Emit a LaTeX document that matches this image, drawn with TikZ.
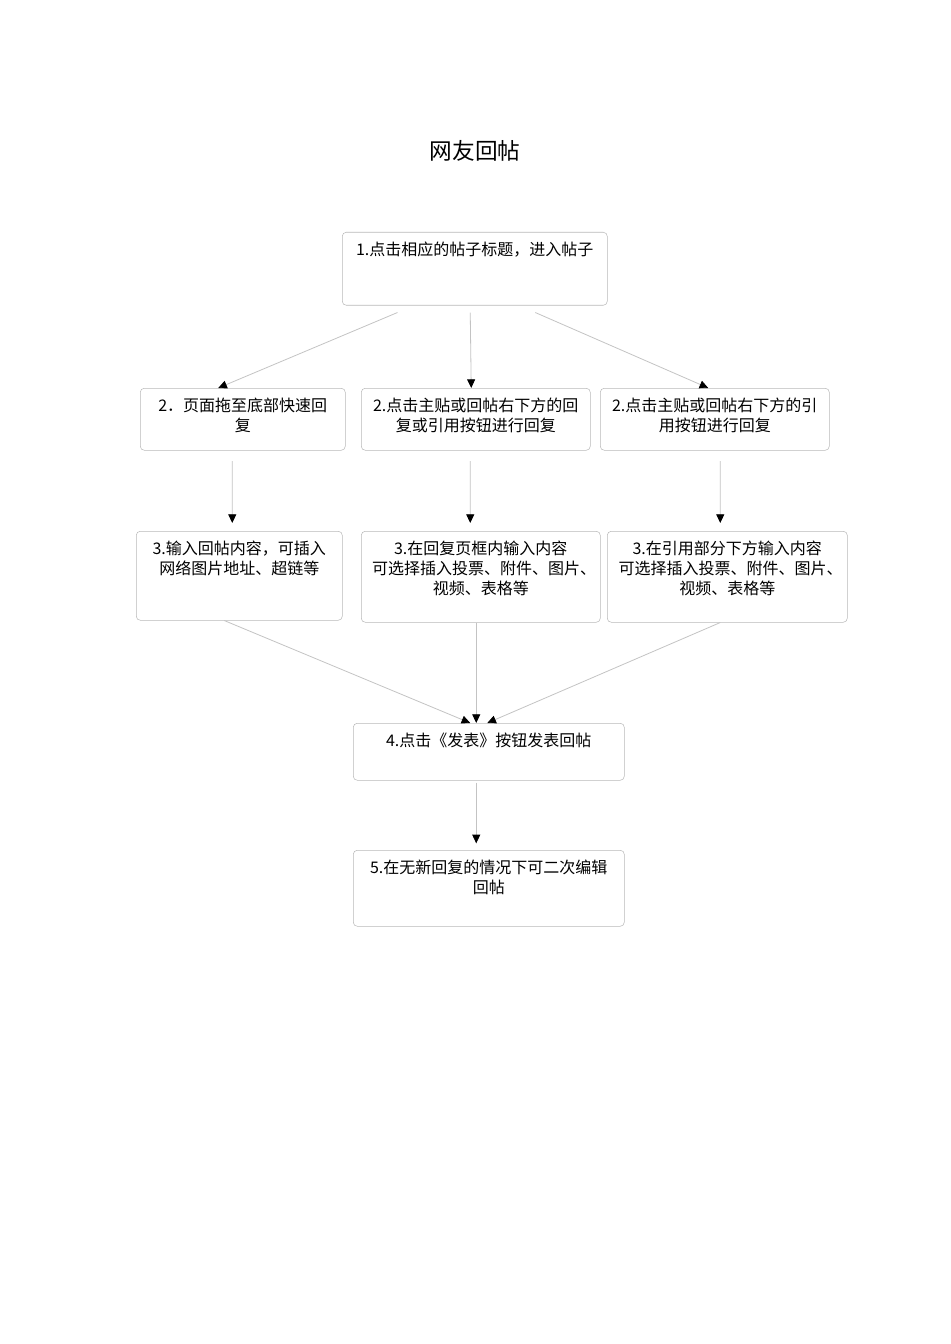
\documentclass[tikz,border=0pt]{standalone}
\usepackage{fontspec}
\setmainfont{Noto Sans CJK SC}
\usetikzlibrary{arrows.meta}

\definecolor{boxgray}{RGB}{185,185,185}
\definecolor{linegray}{RGB}{195,195,195}

% text block of a step: width, height, lines
\newcommand{\steptext}[3]{\parbox[c][#2][t]{#1}{\centering\vspace*{7.5pt}#3\par}}

\tikzset{
  stepbox/.style={draw=boxgray, rounded corners=3pt, inner sep=0pt, anchor=north west,
    font=\fontsize{12pt}{15pt}\selectfont},
  flow/.style={draw=linegray, line width=0.6pt, -{Triangle[black, width=6pt, length=6.5pt]}},
}

\begin{document}
\begin{tikzpicture}[x=0.75pt, y=-0.75pt]
  \useasboundingbox (0,0) rectangle (950,1344);

  \node (title) at (475,151) {\fontsize{17pt}{20pt}\selectfont 网友回帖};

  \node[stepbox] (s1) at (342,232) {\steptext{198.75pt}{54.75pt}{1.点击相应的帖子标题，进入帖子}};

  \node[stepbox] (s2a) at (140,388) {\steptext{153.75pt}{46.5pt}{2．页面拖至底部快速回\\复}};
  \node[stepbox] (s2b) at (361,388) {\steptext{171.75pt}{46.5pt}{2.点击主贴或回帖右下方的回\\复或引用按钮进行回复}};
  \node[stepbox] (s2c) at (600,388) {\steptext{171.75pt}{46.5pt}{2.点击主贴或回帖右下方的引\\用按钮进行回复}};

  \node[stepbox] (s3a) at (136,531) {\steptext{154.5pt}{66.75pt}{3.输入回帖内容，可插入\\网络图片地址、超链等}};
  \node[stepbox] (s3b) at (361,531) {\steptext{179.25pt}{68.25pt}{3.在回复页框内输入内容\\\hspace*{5pt}可选择插入投票、附件、图片、\\视频、表格等}};
  \node[stepbox] (s3c) at (607,531) {\steptext{180pt}{68.25pt}{3.在引用部分下方输入内容\\\hspace*{5pt}可选择插入投票、附件、图片、\\视频、表格等}};

  \node[stepbox] (s4) at (353,723) {\steptext{203.25pt}{42.75pt}{4.点击《发表》按钮发表回帖}};
  \node[stepbox] (s5) at (353,850) {\steptext{203.25pt}{57pt}{5.在无新回复的情况下可二次编辑\\回帖}};

  % step 1 to the three ways of replying
  \draw[flow] ([xshift=-58pt, yshift=-5.25pt]s1.south) -- ([xshift=-18.4pt]s2a.north);
  \draw[flow] ([xshift=-3.4pt, yshift=-5.25pt]s1.south) -- ([xshift=-3.4pt]s2b.north);
  \draw[flow] ([xshift=45.4pt, yshift=-5.25pt]s1.south) -- ([xshift=-4.9pt]s2c.north);

  % step 2 to step 3
  \draw[flow, shorten <=8pt, shorten >=6pt] ([xshift=-7.9pt]s2a.south) -- ([xshift=-5.25pt]s3a.north);
  \draw[flow, shorten <=8pt, shorten >=6pt] ([xshift=-4.1pt]s2b.south) -- ([xshift=-7.9pt]s3b.north);
  \draw[flow, shorten <=8pt, shorten >=6pt] ([xshift=4.1pt]s2c.south) -- ([xshift=-5.25pt]s3c.north);

  % step 3 to step 4
  \draw[flow] ([xshift=-11.25pt]s3a.south) -- ([xshift=-13.9pt]s4.north);
  \draw[flow] ([xshift=-3.4pt]s3b.south) -- ([xshift=-9.4pt]s4.north);
  \draw[flow] ([xshift=-5.25pt]s3c.south) -- ([xshift=-1.1pt]s4.north);

  \draw[flow, shorten <=1.5pt, shorten >=5pt] ([xshift=-9.4pt]s4.south) -- ([xshift=-9.4pt]s5.north);
\end{tikzpicture}
\end{document}
